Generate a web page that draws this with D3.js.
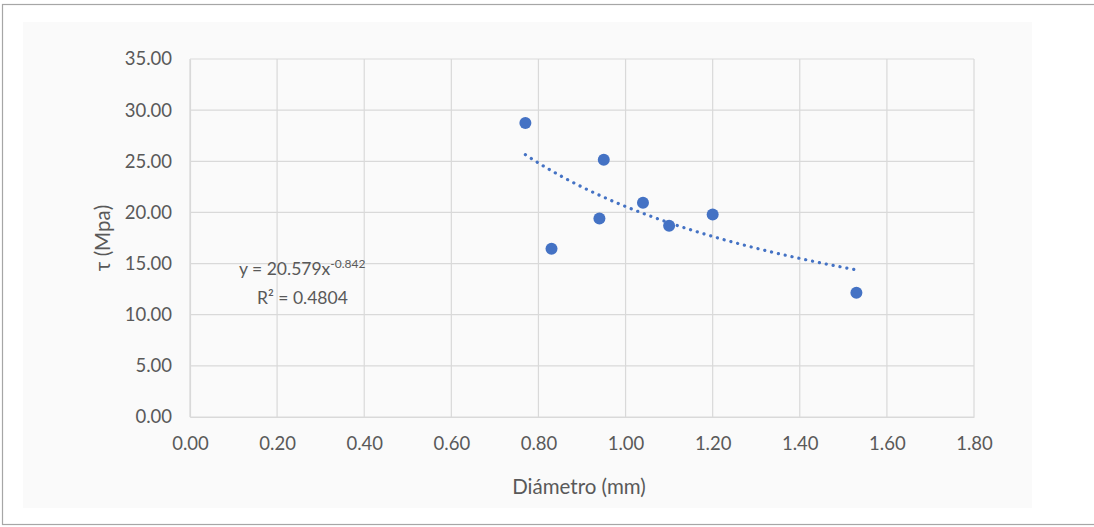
<!DOCTYPE html>
<html><head><meta charset="utf-8">
<script src="https://cdn.jsdelivr.net/npm/d3@7"></script>
<style>body{margin:0;background:#fff;}svg{display:block;}</style>
</head><body>
<script>
const diameters = [0.77, 0.83, 0.94, 0.95, 1.04, 1.10, 1.20, 1.53];
const tauValues = [28.75, 16.45, 19.40, 25.15, 20.95, 18.70, 19.80, 12.15];
const xTicks = [0, 0.2, 0.4, 0.6, 0.8, 1.0, 1.2, 1.4, 1.6, 1.8];
const yTicks = [0, 5, 10, 15, 20, 25, 30, 35];
const trendCoef = 20.579, trendExp = -0.842;
const eqLabel = "y = 20.579x", eqExpLabel = "-0.842", r2Label = "R² = 0.4804";
const xTitle = "Diámetro (mm)", yTitle = "τ (Mpa)";

const W = 1094, H = 527;
const svg = d3.select("body").append("svg").attr("width", W).attr("height", H);
// outer frame
svg.append("rect").attr("x", 2.5).attr("y", 4.5).attr("width", W + 10).attr("height", 520)
  .attr("fill", "#fff").attr("stroke", "#a6a6a6").attr("stroke-width", 1.2);
svg.append("rect").attr("x", 23).attr("y", 22).attr("width", 1009).attr("height", 486).attr("fill", "#fafafa");

const x = d3.scaleLinear().domain([0, 1.8]).range([190, 974]);
const y = d3.scaleLinear().domain([0, 35]).range([417, 59]);
const font = "Lato, 'Open Sans', sans-serif";
const txt = "#595959";

// grid
svg.append("g").selectAll("line").data(yTicks).join("line")
  .attr("x1", x(0)).attr("x2", x(1.8)).attr("y1", d => y(d)).attr("y2", d => y(d))
  .attr("stroke", "#d9d9d9").attr("stroke-width", 1.2);
svg.append("g").selectAll("line").data(xTicks).join("line")
  .attr("y1", y(0)).attr("y2", y(35)).attr("x1", d => x(d)).attr("x2", d => x(d))
  .attr("stroke", "#d9d9d9").attr("stroke-width", 1.2);

// axes
const xAxis = svg.append("g").attr("transform", `translate(0,${y(0)})`)
  .call(d3.axisBottom(x).tickValues(xTicks).tickFormat(d3.format(".2f")).tickSize(0).tickPadding(20));
const yAxis = svg.append("g").attr("transform", `translate(${x(0)},0)`)
  .call(d3.axisLeft(y).tickValues(yTicks).tickFormat(d3.format(".2f")).tickSize(0).tickPadding(18));
[xAxis, yAxis].forEach(a => {
  a.select(".domain").attr("stroke", "#d9d9d9").attr("stroke-width", 1.2);
  a.selectAll("text").attr("fill", txt).style("font-family", font).style("font-size", "18.5px");
});

// trendline
const trendX = d3.range(0, 81).map(i => diameters[0] + (diameters[diameters.length-1] - diameters[0]) * i / 80);
svg.append("path").datum(trendX)
  .attr("d", d3.line().x(d => x(d)).y(d => y(trendCoef * Math.pow(d, trendExp))))
  .attr("fill", "none").attr("stroke", "#4472c4").attr("stroke-width", 3.2)
  .attr("stroke-linecap", "round").attr("stroke-dasharray", "0.1 6.9");

// points
svg.append("g").selectAll("circle").data(diameters.map((d, i) => [d, tauValues[i]])).join("circle")
  .attr("cx", d => x(d[0])).attr("cy", d => y(d[1])).attr("r", 6).attr("fill", "#4472c4");

// equation
const eq = svg.append("text").attr("x", 239).attr("y", 275).attr("fill", txt)
  .style("font-family", font).style("font-size", "17.5px");
eq.append("tspan").text(eqLabel);
eq.append("tspan").attr("dy", -7).style("font-size", "12px").text(eqExpLabel);
svg.append("text").attr("x", 257).attr("y", 304).attr("fill", txt)
  .style("font-family", font).style("font-size", "17.5px").text(r2Label);

// titles
svg.append("text").attr("x", x(0.9) - 3).attr("y", 494).attr("text-anchor", "middle")
  .attr("fill", txt).style("font-family", font).style("font-size", "20.5px").text(xTitle);
svg.append("text").attr("transform", `translate(110,${y(17.5)}) rotate(-90)`).attr("text-anchor", "middle")
  .attr("fill", txt).style("font-family", font).style("font-size", "20.5px").text(yTitle);
</script>
</body></html>
